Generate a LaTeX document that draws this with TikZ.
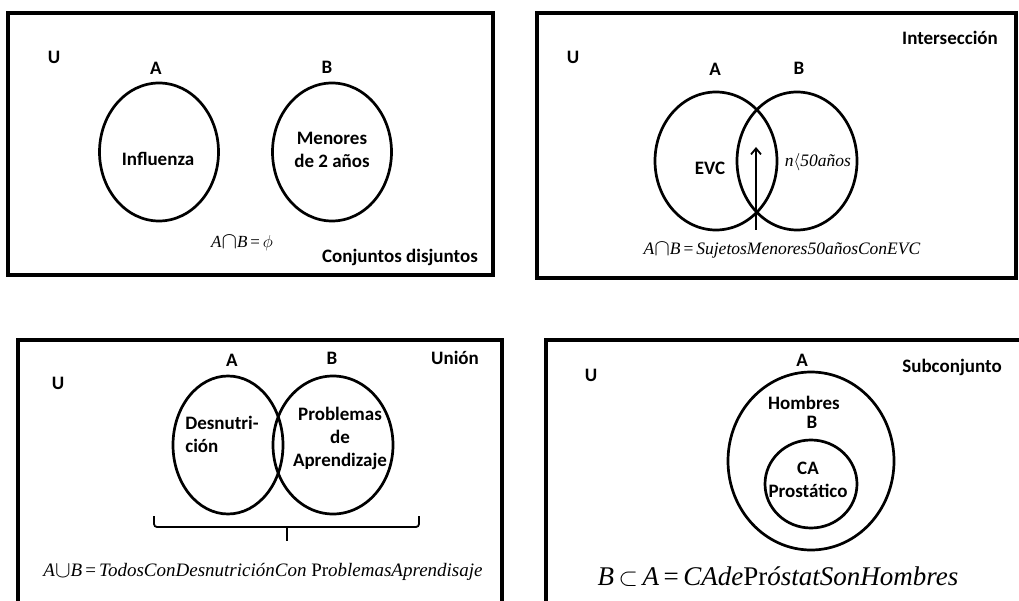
\documentclass[tikz,border=0pt]{standalone}
\usepackage{fontspec}
\usepackage{graphicx}
\setmainfont{Carlito}
\newfontfamily\formfont{Liberation Serif}
\usetikzlibrary{shapes.geometric,arrows.meta}
\newcommand{\bigcapsym}{\raisebox{-0.1ex}{\scalebox{1.35}{$\cap$}}}
\newcommand{\bigcupsym}{\raisebox{-0.1ex}{\scalebox{1.35}{$\cup$}}}
\tikzset{
  frame/.style={line width=4pt},
  setell/.style={draw,ellipse,line width=2.7pt,inner sep=0pt},
  lbl/.style={font=\fontsize{19}{23}\selectfont\bfseries,inner sep=0pt,align=center},
  frm/.style={font=\formfont\itshape\fontsize{17.5}{22}\selectfont,inner sep=0pt},
}
\begin{document}
\begin{tikzpicture}[x=1pt,y=-1pt]
\useasboundingbox (0,0) rectangle (1019,601);
% ---------- Panel 1: disjuntos
\draw[frame] (8,13) rectangle (493,275);
\node[setell,minimum width=119,minimum height=138] (A1) at (159,152) {};
\node[setell,minimum width=119,minimum height=138] (B1) at (332,152) {};
\node[lbl] (U1) at (54,57) {U};
\node[lbl] (la1) at (156,68) {A};
\node[lbl] (lb1) at (327,67) {B};
\node[lbl] (t11) at (158,159) {Influenza};
\node[lbl] (t12) at (332,150) {Menores\\de 2 años};
\node[frm,font=\formfont\itshape\fontsize{17}{22}\selectfont] (f1) at (242,243) {A\bigcapsym B\,{\upshape=}\,$\phi$};
\node[lbl] (c1) at (400,257) {Conjuntos disjuntos};
% ---------- Panel 2: intersección
\draw[frame,line width=3.6pt] (537,13) rectangle (1016,278);
\node[setell,minimum width=122,minimum height=138] (A2) at (716,161) {};
\node[setell,minimum width=120,minimum height=138] (B2) at (797,161) {};
\node[lbl] (U2) at (573,57) {U};
\node[lbl] (la2) at (715,69) {A};
\node[lbl] (lb2) at (799,68) {B};
\node[lbl] (c2) at (950,38) {Intersección};
\node[lbl] (t21) at (710,168) {EVC};
\node[frm] (t22) at (818,162) {n{\upshape$\langle$}50años};
\coordinate (arS) at (756,230);
\coordinate (arE) at (756,147);
\draw[line width=1.8pt,-{Straight Barb[length=6pt,width=10pt]}] (arS) -- (arE);
\node[frm] (f2) at (782,250) {A\bigcapsym B\,{\upshape=}\,SujetosMenores50añosConEVC};
% ---------- Panel 3: unión
\draw[frame] (18,601) -- (18,340) -- (502,340) -- (502,601);
\node[setell,minimum width=110,minimum height=138] (A3) at (228,445) {};
\node[setell,minimum width=120,minimum height=138] (B3) at (333,445) {};
\node[lbl] (U3) at (58,383) {U};
\node[lbl] (la3) at (232,360) {A};
\node[lbl] (lb3) at (332,358) {B};
\node[lbl] (c3) at (455,358) {Unión};
\node[lbl,align=left] (t31) at (222,434) {Desnutri-\\ción};
\node[lbl] (t32) at (340,438) {Problemas\\de\\Aprendizaje};
\coordinate (brL) at (154,516);
\coordinate (brR) at (419,516);
\coordinate (brM) at (287,527);
\coordinate (brT) at (287,541);
\draw[line width=1.8pt,rounded corners=3pt] (brL) -- (brL |- brM) -- (brR |- brM) -- (brR);
\draw[line width=1.8pt] (brM) -- (brT);
\node[frm,font=\formfont\itshape\fontsize{19}{23}\selectfont] (f3) at (263,572) {A\bigcupsym B\,{\upshape=}\,TodosConDesnutriciónCon {\upshape Pr}\textit{oblemasAprendisaje}};
% ---------- Panel 4: subconjunto
\draw[frame] (546,601) -- (546,340) -- (1025,340);
\node[setell,minimum width=166,minimum height=178] (A4) at (811,461) {};
\node[setell,minimum width=92,minimum height=88] (B4) at (811,484) {};
\node[lbl] (U4) at (591,375) {U};
\node[lbl] (la4) at (802,360) {A};
\node[lbl] (c4) at (952,367) {Subconjunto};
\node[lbl] (t41) at (804,403) {Hombres};
\node[lbl] (lb4) at (812,422) {B};
\node[lbl] (t42) at (808,480) {CA\\Prostático};
\node[frm,font=\formfont\itshape\fontsize{27}{32}\selectfont] (f4) at (778,577) {B\,$\subset$\,A\,{\upshape=}\,CAde{\upshape Pr}\textit{óstatSonHombres}};
\end{tikzpicture}
\end{document}
